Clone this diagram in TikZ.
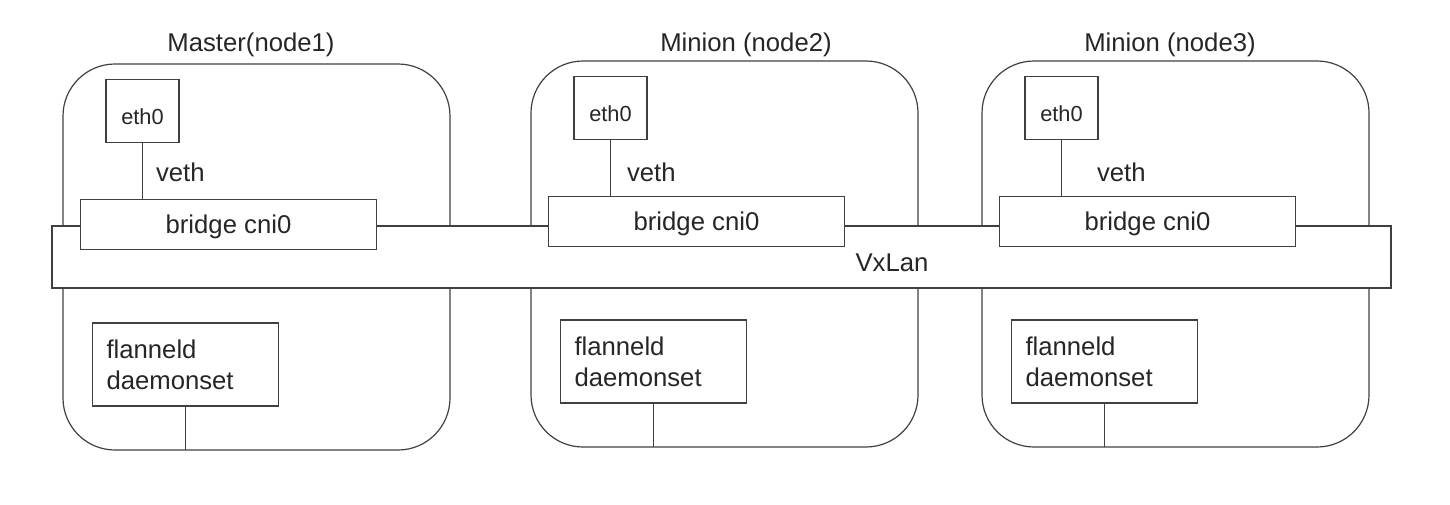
\documentclass[tikz,border=0pt]{standalone}
\usepackage{fontspec}
\setmainfont{Liberation Sans}
\usetikzlibrary{positioning}
\tikzset{
  wire/.style={draw=black!75,line width=1.2pt},
  hostbox/.style={wire,rounded corners=52pt,minimum width=387pt,minimum height=386pt,inner sep=0pt,outer sep=0pt},
  txt/.style={font=\fontsize{25.7pt}{31pt}\selectfont,text=black!85,inner sep=0pt,outer sep=0pt},
  ethbox/.style={wire,fill=white,txt,font=\fontsize{21.8pt}{26pt}\selectfont,minimum width=73pt,minimum height=63pt,text height=28pt},
  bridgebox/.style={wire,fill=white,txt,minimum width=296pt,minimum height=50pt,text depth=0pt},
  flannelbox/.style={wire,fill=white,txt,align=left,text width=158pt,inner xsep=14pt,minimum width=186pt,minimum height=83pt},
  vxbar/.style={wire,fill=white,minimum width=1339pt,minimum height=62pt,inner sep=0pt,outer sep=0pt}
}
\begin{document}
\begin{tikzpicture}[x=1pt,y=-1pt]
\useasboundingbox (0,0) rectangle (1450,504);
\foreach \i/\l/\t/\tx/\n in {1/63/64/251/Master(node1), 2/531/61/746/Minion (node2), 3/982/61/1170/Minion (node3)}
{
  \node[hostbox] (h\i) at (\l+193.5,\t+193) {};
  \node[txt,anchor=base] (t\i) at (\tx,51) {\n};
}
\node[vxbar] (vx) at (721.5,257) {};
\node[txt,anchor=base] (vxl) at (892,271) {VxLan};
\foreach \i/\v in {1/156, 2/627, 3/1097}
{
  \node[ethbox,below right=15.5pt and 43pt of h\i.north west] (e\i) {eth0};
  \node[bridgebox,below right=135.5pt and 17.5pt of h\i.north west] (b\i) {bridge cni0};
  \node[flannelbox,below right=259pt and 29.5pt of h\i.north west] (f\i) {flanneld\\daemonset};
  \node[txt,anchor=base west] (v\i) at (\v,181) {veth};
  \draw[wire] (e\i) -- (e\i |- b\i.north);
  \draw[wire] (f\i) -- (f\i |- h\i.south);
}
\end{tikzpicture}
\end{document}
